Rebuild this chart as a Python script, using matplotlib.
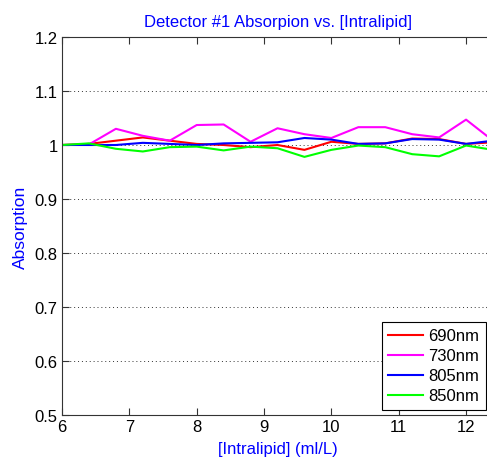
import matplotlib
matplotlib.use("Agg")
from matplotlib import pyplot as plt

plt.rcParams['font.family'] = ['Liberation Sans', 'DejaVu Sans']

# concentration steps
conc = [6.0, 6.4, 6.8, 7.2, 7.6, 8.0, 8.4, 8.8, 9.2, 9.6, 10.0, 10.4, 10.8, 11.2, 11.6, 12.0, 12.4]

abs_690 = [1.000, 1.002, 1.008, 1.014, 1.008, 1.002, 1.000, 0.996, 1.000, 0.991,
           1.006, 1.002, 1.003, 1.012, 1.011, 1.002, 1.005]
abs_730 = [1.000, 1.001, 1.030, 1.017, 1.008, 1.037, 1.038, 1.006, 1.031, 1.020,
           1.013, 1.033, 1.033, 1.020, 1.014, 1.047, 1.008]
abs_805 = [1.000, 1.000, 1.000, 1.004, 1.002, 1.000, 1.003, 1.004, 1.005, 1.013,
           1.010, 1.002, 1.003, 1.011, 1.010, 1.002, 1.008]
abs_850 = [1.000, 1.003, 0.993, 0.988, 0.996, 0.997, 0.990, 0.997, 0.994, 0.978,
           0.991, 0.999, 0.996, 0.983, 0.979, 0.999, 0.991]

labels = ['690nm', '730nm', '805nm', '850nm']
colors = ['#ff0000', '#ff00ff', '#0000ff', '#00ff00']

yticks = [0.5, 0.6, 0.7, 0.8, 0.9, 1.0, 1.1, 1.2]
ytick_labels = ['0.5', '0.6', '0.7', '0.8', '0.9', '1', '1.1', '1.2']
xticks = [6, 7, 8, 9, 10, 11, 12]

fig = plt.figure(figsize=(4.87, 4.6), dpi=100)
ax = fig.add_axes([62 / 487, 44 / 460, 431 / 487, 378 / 460])

for ys, c, lab in zip([abs_690, abs_730, abs_805, abs_850], colors, labels):
    ax.plot(conc, ys, color=c, lw=1.5, label=lab)

ax.set_xlim(6, 12.4)
ax.set_ylim(0.5, 1.2)
ax.set_xticks(xticks)
ax.set_yticks(yticks)
ax.set_yticklabels(ytick_labels)
ax.tick_params(direction='in', length=5, width=0.8, labelsize=12, colors='#333333',
               labelcolor='black', top=True, right=True, pad=3)
for s in ax.spines.values():
    s.set_color('#333333')
    s.set_linewidth(0.8)

ax.yaxis.grid(True, linestyle=(0, (1, 3)), color='#333333', linewidth=0.7)

ax.set_title('Detector #1 Absorpion vs. [Intralipid]', color='blue', fontsize=12, pad=8)
ax.set_xlabel('[Intralipid] (ml/L)', color='blue', fontsize=12, labelpad=5)
ax.set_ylabel('Absorption', color='blue', fontsize=12.5, labelpad=5)

leg = ax.legend(loc='lower right', bbox_to_anchor=(486 / 487, 49 / 460),
                bbox_transform=fig.transFigure, fontsize=12, fancybox=False,
                framealpha=1, edgecolor='black', handlelength=2.1,
                labelspacing=0.3, borderpad=0.4, handletextpad=0.3,
                borderaxespad=0)
leg.get_frame().set_linewidth(0.8)

fig.savefig('out.png', dpi=100)
